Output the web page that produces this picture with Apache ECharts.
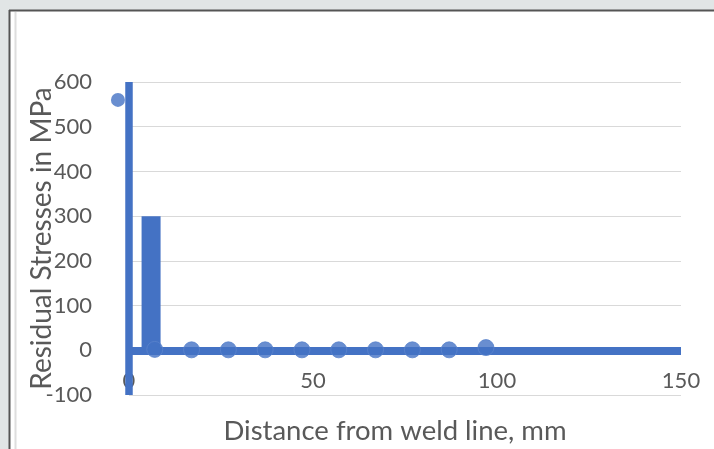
<!DOCTYPE html>
<html>
<head>
<meta charset="utf-8">
<script src="https://cdn.jsdelivr.net/npm/echarts@6/dist/echarts.min.js"></script>
<style>
  html, body { margin: 0; padding: 0; background: #e1e5e6; }
  #chart { width: 714px; height: 449px; }
</style>
</head>
<body>
<div id="chart"></div>
<script>
// Residual stress measurements versus distance from the weld line
const peakPoint = [[-3, 560]];
const nearWeldBar = [[6, 300]];
const distances = [7, 17, 27, 37, 47, 57, 67, 77, 87, 97];
const stresses = [2, 1, 1, 1, 1, 1, 1, 1, 1, 6];
const xTicks = { min: 0, max: 150, step: 50 };
const yTicks = { min: -100, max: 600, step: 100 };

const blue = '#4472C4';
const textGray = '#595959';
const font = 'Lato';

const chart = echarts.init(document.getElementById('chart'), null, { renderer: 'canvas' });

chart.setOption({
  backgroundColor: '#e1e5e6',
  animation: false,
  graphic: [
    { type: 'rect', z: -10, shape: { x: 9, y: 10, width: 705, height: 439 }, style: { fill: '#ffffff' } },
    { type: 'line', z: -9, shape: { x1: 9.5, y1: 10, x2: 9.5, y2: 449 }, style: { stroke: '#555555', lineWidth: 2 } },
    { type: 'line', z: -9, shape: { x1: 9, y1: 10.5, x2: 714, y2: 10.5 }, style: { stroke: '#555555', lineWidth: 2 } },
    { type: 'line', z: -9, shape: { x1: 15.5, y1: 12, x2: 15.5, y2: 449 }, style: { stroke: '#dedede', lineWidth: 2 } }
  ],
  grid: { left: 129, right: 33, top: 82, bottom: 54, containLabel: false, outerBoundsMode: 'none' },
  xAxis: {
    type: 'value',
    min: xTicks.min, max: xTicks.max, interval: xTicks.step,
    name: 'Distance from weld line, mm',
    nameLocation: 'middle',
    nameGap: 22,
    nameMoveOverlap: false,
    nameTextStyle: { color: textGray, fontFamily: font, fontSize: 27.5, padding: [0, 20, 0, 0] },
    axisLine: { onZero: true, lineStyle: { color: blue, width: 8, cap: 'butt' } },
    axisTick: { show: false },
    axisLabel: { color: textGray, fontFamily: font, fontSize: 22, margin: -25 },
    splitLine: { show: false },
    z: 3
  },
  yAxis: [
    {
      // labels, title and gridlines
      type: 'value',
      min: yTicks.min, max: yTicks.max, interval: yTicks.step,
      name: 'Residual Stresses in MPa',
      nameLocation: 'middle',
      nameGap: 73,
      nameMoveOverlap: false,
      nameTextStyle: { color: textGray, fontFamily: font, fontSize: 28 },
      axisLine: { show: false },
      axisTick: { show: false },
      axisLabel: { color: textGray, fontFamily: font, fontSize: 22, margin: 37 },
      splitLine: { lineStyle: { color: '#d9d9d9', width: 1 } }
    },
    {
      // thick vertical axis line drawn above the marks
      type: 'value',
      position: 'left',
      min: yTicks.min, max: yTicks.max, interval: yTicks.step,
      axisLine: { show: true, onZero: false, lineStyle: { color: blue, width: 7.5, cap: 'butt' } },
      axisTick: { show: false },
      axisLabel: { show: false },
      splitLine: { show: false },
      z: 6
    }
  ],
  series: [
    {
      type: 'bar',
      data: nearWeldBar,
      barWidth: 19,
      itemStyle: { color: blue },
      z: 2
    },
    {
      type: 'scatter',
      data: peakPoint,
      symbolSize: 14,
      clip: false,
      itemStyle: { color: blue },
      z: 1
    },
    {
      type: 'scatter',
      data: distances.map((d, i) => [d, stresses[i]]),
      symbolSize: 16,
      itemStyle: { color: blue, borderColor: '#5a83cc', borderWidth: 1 },
      z: 3
    }
  ]
});
</script>
</body>
</html>
